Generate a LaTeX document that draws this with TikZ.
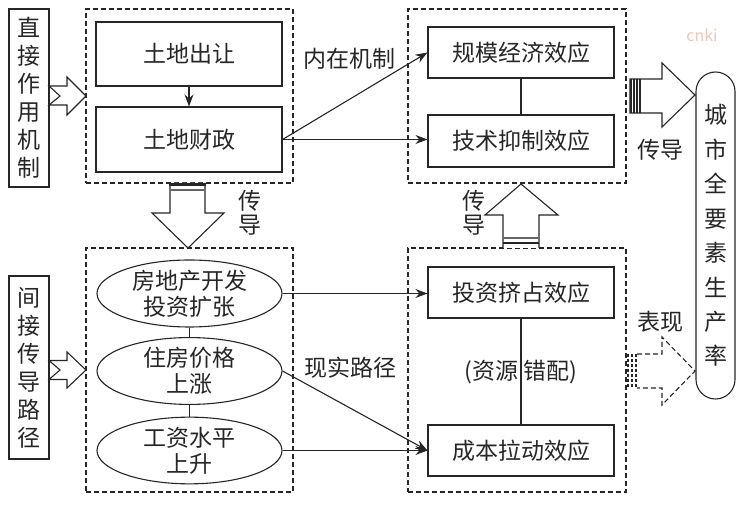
\documentclass[tikz,border=0pt]{standalone}
\usepackage{fontspec}
\setmainfont{Noto Sans CJK SC}
\usetikzlibrary{arrows.meta,shapes.geometric}
\definecolor{markcol}{RGB}{236,200,186}
\tikzset{
  grp/.style={draw,dashed,dash pattern=on 5pt off 3pt,line width=1.2pt,inner sep=0pt},
  box/.style={draw,minimum width=186pt,inner sep=0pt,font=\fontsize{23}{26}\selectfont},
  ell/.style={ellipse,draw,minimum width=185pt,minimum height=56pt,inner sep=0pt,align=center,font=\fontsize{23}{26}\selectfont},
  side/.style={draw,minimum width=40pt,inner sep=0pt,align=center,font=\fontsize{23}{28}\selectfont},
  lbl/.style={inner sep=0pt,align=center,font=\fontsize{23}{24}\selectfont}
}
\begin{document}
\begin{tikzpicture}[x=1pt,y=-1pt,line width=1.1pt,color=black!85,>={Stealth[length=12pt,width=9pt]}]
\useasboundingbox (0,0) rectangle (740,510);

% dashed groups
\node[grp,minimum width=207pt,minimum height=174pt] (gtl) at (189.5,96) {};
\node[grp,minimum width=207pt,minimum height=244pt] (gbl) at (189.5,370) {};
\node[grp,minimum width=218pt,minimum height=174pt] (gtr) at (517,96) {};
\node[grp,minimum width=218pt,minimum height=244pt] (gbr) at (517,370) {};

% fat arrows
\draw[fill=white] (49,86) -- (67,86) -- (67,77) -- (86,96) -- (67,115) -- (67,105) -- (49,105) -- (60,96) -- cycle;
\draw[fill=white] (49,360.5) -- (67,360.5) -- (67,352) -- (86,370) -- (67,388) -- (67,379.5) -- (49,379.5) -- (60,370) -- cycle;
\draw[fill=white] (170,183) -- (170,213) -- (152,213) -- (188,248) -- (224,213) -- (205,213) -- (205,183);
\draw[line width=2.5pt] (169,184.5) -- (206,184.5);
\draw[line width=1.4pt,black!60] (170,190) -- (205,190);
\draw[fill=white] (503,248) -- (503,215) -- (485,215) -- (521,184) -- (558,215) -- (539,215) -- (539,248);
\draw[line width=1.2pt,black!60] (503,238) -- (539,238);
\draw[line width=2.5pt] (503,243) -- (539,243);
\draw[fill=white] (630,79) -- (662,79) -- (662,63) -- (695,95) -- (662,127) -- (662,113) -- (630,113) -- cycle;
\foreach \sx in {631,634,637,640}
  \draw[line width=1.6pt] (\sx,79) -- (\sx,113);
\draw[fill=white,dashed,dash pattern=on 5pt off 3pt] (637,354) -- (662,354) -- (662,337) -- (695,371) -- (662,405) -- (662,388) -- (637,388);
\foreach \sx in {628,632,636}
  \draw[dash pattern=on 3pt off 2pt,line width=1.5pt] (\sx,354) -- (\sx,388);

% side boxes
\node[side,minimum height=178pt] (direct) at (29,98) {直\\接\\作\\用\\机\\制};
\node[side,minimum height=183pt] (indirect) at (29,367.5) {间\\接\\传\\导\\路\\径};
\node[draw,rounded corners=19.5pt,minimum width=39pt,minimum height=327pt,inner sep=0pt,align=center,font=\fontsize{23}{34.5}\selectfont] (tfp) at (715.5,235.5) {城\\市\\全\\要\\素\\生\\产\\率};

% boxes
\node[box,minimum height=64pt] (transfer) at (189,54) {土地出让};
\node[box,minimum height=65pt] (finance) at (189,139.5) {土地财政};
\node[box,minimum height=51pt] (scale) at (521,52.5) {规模经济效应};
\node[box,minimum height=52pt] (tech) at (521,141) {技术抑制效应};
\node[box,minimum height=51pt] (crowd) at (521,292.5) {投资挤占效应};
\node[box,minimum height=51pt] (cost) at (521,450.5) {成本拉动效应};

\node[ell] (invest) at (189.5,293.5) {房地产开发\\投资扩张};
\node[ell] (price) at (189.5,371) {住房价格\\上涨};
\node[ell] (wage) at (189.5,450.5) {工资水平\\上升};

% connectors
\draw[->] (transfer) -- (finance);
\draw[->] (finance.east) -- (scale.west);
\draw[->] (finance.east) -- (finance.east -| tech.west);
\draw (scale) -- (tech);
\draw (invest) -- (price);
\draw (price) -- (wage);
\draw (crowd) -- (cost);
\draw[->] (invest) -- (invest -| crowd.west);
\draw[->] (price.east) -- (cost.west);
\draw[->] (wage) -- (wage -| cost.west);

% labels
\node[lbl] (inner) at (349,59) {内在机制};
\node[lbl] (real) at (350,368) {现实路径};
\node[lbl] (misalloc) at (521,372) {(资源\hspace{6pt}错配)};
\node[lbl] (downlbl) at (250,213) {传\\导};
\node[lbl] (uplbl) at (474,213) {传\\导};
\node[lbl] (rightlbl) at (660,150) {传导};
\node[lbl] (showlbl) at (660,322) {表现};
\node[inner sep=0pt,text=markcol,font=\fontsize{16}{18}\selectfont] (mark) at (702,35) {cnki};
\end{tikzpicture}
\end{document}
